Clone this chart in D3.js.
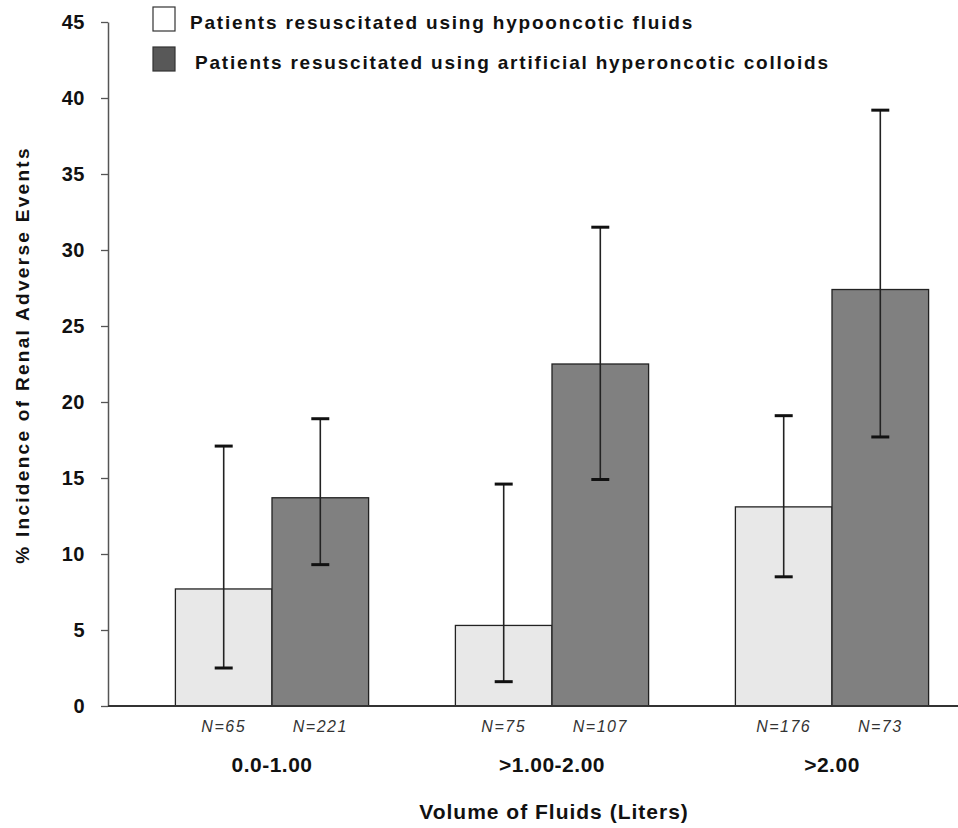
<!DOCTYPE html>
<html>
<head>
<meta charset="utf-8">
<script src="https://cdn.jsdelivr.net/npm/d3@7"></script>
<style>
  body { margin: 0; background: #fff; }
  svg { display: block; font-family: "Liberation Sans", Arial, sans-serif; }
</style>
</head>
<body>
<svg id="chart"></svg>
<script>
/* Data */
const categories = ["0.0-1.00", ">1.00-2.00", ">2.00"];
const seriesNames = ["Patients resuscitated using hypooncotic fluids",
                     "Patients resuscitated using artificial hyperoncotic colloids"];
const hypoValues = [7.7, 5.3, 13.1];
const hypoLow = [2.5, 1.6, 8.5];
const hypoHigh = [17.1, 14.6, 19.1];
const colloidValues = [13.7, 22.5, 27.4];
const colloidLow = [9.3, 14.9, 17.7];
const colloidHigh = [18.9, 31.5, 39.2];
const hypoN = [65, 75, 176];
const colloidN = [221, 107, 73];
const yTicks = [0, 5, 10, 15, 20, 25, 30, 35, 40, 45];

/* Build rows for drawing */
const rows = [];
categories.forEach((c, i) => {
  rows.push({ cat: c, key: "hypo", value: hypoValues[i], lo: hypoLow[i], hi: hypoHigh[i], n: hypoN[i] });
  rows.push({ cat: c, key: "colloid", value: colloidValues[i], lo: colloidLow[i], hi: colloidHigh[i], n: colloidN[i] });
});

/* Chart dimensions */
const W = 958, H = 828;
const svg = d3.select("#chart").attr("width", W).attr("height", H);

/* Scales */
const x0 = d3.scaleBand()
    .domain(categories)
    .range([132, 972])
    .paddingInner(0.31)
    .paddingOuter(0.155);

const x1 = d3.scaleBand()
    .domain(["hypo", "colloid"])
    .range([0, x0.bandwidth()]);

const y = d3.scaleLinear()
    .domain([0, 45])
    .range([706, 22]);

const fill = d3.scaleOrdinal()
    .domain(["hypo", "colloid"])
    .range(["#e8e8e8", "#808080"]);

/* Bars */
svg.append("g").selectAll("rect")
  .data(rows)
  .join("rect")
    .attr("x", d => x0(d.cat) + x1(d.key))
    .attr("y", d => y(d.value))
    .attr("width", x1.bandwidth())
    .attr("height", d => y(0) - y(d.value))
    .attr("fill", d => fill(d.key))
    .attr("stroke", "#222")
    .attr("stroke-width", 1.3);

/* Error bars */
const cx = d => x0(d.cat) + x1(d.key) + x1.bandwidth() / 2;
const err = svg.append("g").selectAll("g")
  .data(rows)
  .join("g");
err.append("line")
    .attr("x1", cx).attr("x2", cx)
    .attr("y1", d => y(d.lo)).attr("y2", d => y(d.hi))
    .attr("stroke", "#222").attr("stroke-width", 1.6);
err.append("line")
    .attr("x1", d => cx(d) - 9).attr("x2", d => cx(d) + 9)
    .attr("y1", d => y(d.hi)).attr("y2", d => y(d.hi))
    .attr("stroke", "#111").attr("stroke-width", 3);
err.append("line")
    .attr("x1", d => cx(d) - 9).attr("x2", d => cx(d) + 9)
    .attr("y1", d => y(d.lo)).attr("y2", d => y(d.lo))
    .attr("stroke", "#111").attr("stroke-width", 3);

/* Y axis */
const yAxis = svg.append("g")
    .attr("transform", "translate(108,0)")
    .call(d3.axisLeft(y).tickValues(yTicks).tickSize(7).tickSizeOuter(0).tickPadding(16));
yAxis.select(".domain").attr("stroke", "#555").attr("stroke-width", 1.5);
yAxis.selectAll(".tick line").attr("stroke", "#555").attr("stroke-width", 1.3);
yAxis.selectAll(".tick text")
    .style("font-size", "20px").style("font-weight", "bold")
    .style("letter-spacing", "0.5px")
    .attr("fill", "#111");

/* X baseline */
svg.append("line")
    .attr("x1", 108).attr("x2", W)
    .attr("y1", y(0)).attr("y2", y(0))
    .attr("stroke", "#333").attr("stroke-width", 2);

/* N labels */
svg.append("g").selectAll("text")
  .data(rows)
  .join("text")
    .attr("x", cx)
    .attr("y", 732)
    .attr("text-anchor", "middle")
    .style("font-size", "16px")
    .style("font-style", "italic")
    .style("letter-spacing", "1.5px")
    .attr("fill", "#333")
    .text(d => `N=${d.n}`);

/* Category labels */
svg.append("g").selectAll("text")
  .data(categories)
  .join("text")
    .attr("x", d => x0(d) + x0.bandwidth() / 2)
    .attr("y", 772)
    .attr("text-anchor", "middle")
    .style("font-size", "21px")
    .style("font-weight", "bold")
    .style("letter-spacing", "0.5px")
    .attr("fill", "#111")
    .text(d => d);

/* X axis title */
svg.append("text")
    .attr("x", 554).attr("y", 819)
    .attr("text-anchor", "middle")
    .style("font-size", "21px").style("font-weight", "bold")
    .style("letter-spacing", "1px")
    .attr("fill", "#111")
    .text("Volume of Fluids (Liters)");

/* Y axis title */
svg.append("text")
    .attr("transform", "translate(29,355) rotate(-90)")
    .attr("text-anchor", "middle")
    .style("font-size", "19px").style("font-weight", "bold")
    .style("letter-spacing", "2.3px")
    .attr("fill", "#111")
    .text("% Incidence of Renal Adverse Events");

/* Legend */
const legendFill = ["#ffffff", "#585858"];
const legend = svg.append("g").selectAll("g")
  .data(seriesNames)
  .join("g")
    .attr("transform", (d, i) => `translate(153,${7 + i * 40})`);
legend.append("rect")
    .attr("width", 22).attr("height", 24)
    .attr("fill", (d, i) => legendFill[i])
    .attr("stroke", "#333").attr("stroke-width", 1.2);
legend.append("text")
    .attr("x", (d, i) => 37 + i * 5).attr("y", 22)
    .style("font-size", "19px").style("font-weight", "bold")
    .style("letter-spacing", "1.8px")
    .attr("fill", "#111")
    .text(d => d);
</script>
</body>
</html>
